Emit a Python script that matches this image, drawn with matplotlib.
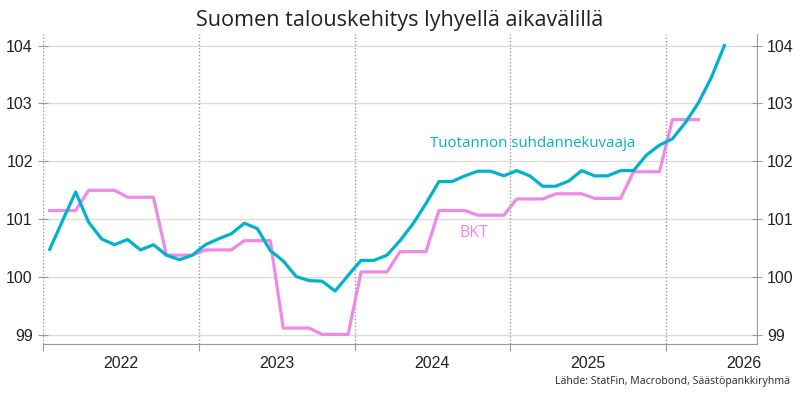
import numpy as np
import matplotlib.pyplot as plt
from matplotlib.ticker import FixedLocator, NullFormatter

# Tuotannon suhdannekuvaaja, monthly Jan 2022 - May 2026
trend = [100.48, 100.98, 101.47, 100.95, 100.66, 100.56, 100.65, 100.47, 100.56, 100.38, 100.30, 100.38,
         100.56, 100.66, 100.75, 100.93, 100.84, 100.46, 100.28, 100.01, 99.94, 99.93, 99.76, 100.03,
         100.29, 100.29, 100.38, 100.63, 100.92, 101.27, 101.65, 101.65, 101.75, 101.83, 101.83, 101.75,
         101.84, 101.75, 101.57, 101.57, 101.66, 101.84, 101.75, 101.75, 101.84, 101.84, 102.11, 102.28,
         102.39, 102.67, 103.01, 103.45, 104.00]

# BKT, quarterly Q1 2022 - Q1 2026 (shown as monthly steps)
gdp_q = [101.15, 101.50, 101.38, 100.38,
         100.47, 100.63, 99.12, 99.01,
         100.09, 100.44, 101.15, 101.07,
         101.35, 101.44, 101.36, 101.82,
         102.72]

years = ["2022", "2023", "2024", "2025", "2026"]
yticks = [99, 100, 101, 102, 103, 104]

blue = "#00B3CB"
pink = "#EE8AE6"
grey = "#9A9A9A"

gdp = np.repeat(gdp_q, 3)
x_trend = np.arange(len(trend)) + 0.5
x_gdp = np.arange(len(gdp)) + 0.5

fig = plt.figure(figsize=(8, 4), dpi=100)
ax = fig.add_axes([0.054, 0.14, 0.892, 0.775])

ax.set_xlim(0, 55)
ax.set_ylim(98.845, 104.2)

# grid and year separators
for y in yticks:
    ax.axhline(y, color="#DCDCDC", lw=1, zorder=0)
for m in range(0, 60, 12):
    ax.axvline(m, color=grey, lw=1, ls=(0, (1, 1.5)), zorder=1)

ax.plot(x_gdp, gdp, color=pink, lw=2.3, zorder=3)
ax.plot(x_trend, trend, color=blue, lw=2.3, zorder=4)

ax.text(29.8, 102.3, "Tuotannon suhdannekuvaaja", color=blue, fontsize=10.8,
        family="Open Sans", va="center", ha="left")
ax.text(32.05, 100.76, "BKT", color=pink, fontsize=11.5,
        family="Open Sans", va="center", ha="left")

for s in ["top", "left"]:
    ax.spines[s].set_visible(False)
ax.spines["bottom"].set_color(grey)
ax.spines["right"].set_color(grey)

# x axis: year boundaries as ticks, labels in the middle of the year
ax.xaxis.set_major_locator(FixedLocator(range(0, 60, 12)))
ax.xaxis.set_major_formatter(NullFormatter())
ax.xaxis.set_minor_locator(FixedLocator([6 + 12 * i for i in range(len(years))]))
ax.set_xticklabels(years, minor=True)
ax.tick_params(axis="x", which="major", direction="out", length=5, color=grey)
ax.tick_params(axis="x", which="minor", length=0, pad=9, labelsize=11.5, labelcolor="#222222")
for lab in ax.get_xticklabels(minor=True):
    lab.set_family("Liberation Sans")

ax.set_yticks(yticks)
ax.tick_params(axis="y", direction="inout", length=7, color=grey, labelsize=11.5,
               labelcolor="#222222", left=True, right=True, labelright=True, pad=4)
for lab in ax.get_yticklabels():
    lab.set_family("Liberation Sans")

fig.text(0.5, 0.948, "Suomen talouskehitys lyhyellä aikavälillä", ha="center", va="center",
         fontsize=15.6, family="Open Sans", color="#222222")
fig.text(0.988, 0.047, "Lähde: StatFin, Macrobond, Säästöpankkiryhmä", ha="right", va="center",
         fontsize=7.5, family="Noto Sans", color="#333333")

fig.savefig("out.png", dpi=100)
